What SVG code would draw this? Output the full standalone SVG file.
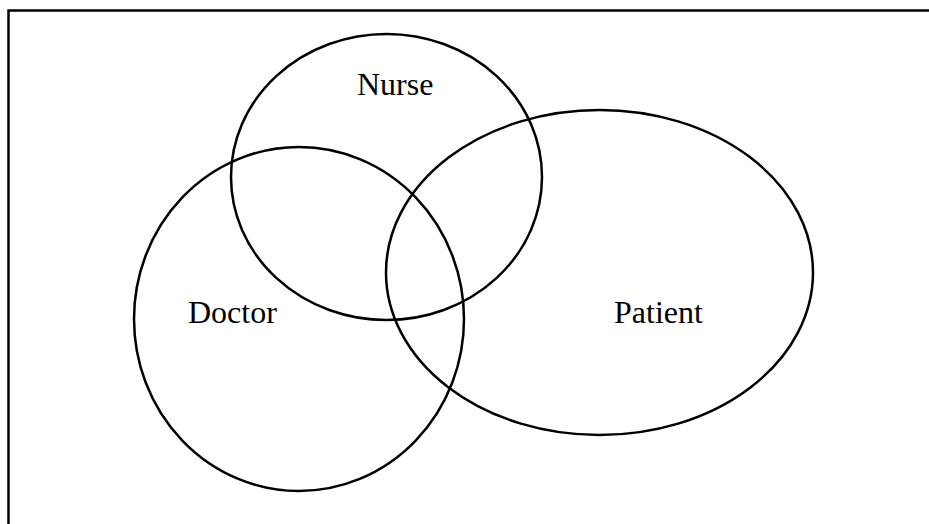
<svg xmlns="http://www.w3.org/2000/svg" width="929" height="524" viewBox="0 0 929 524">
<style>
.shape{fill:none;stroke:#000;stroke-width:2.5}
.frame{fill:none;stroke:#000;stroke-width:2.5}
.lbl{font-family:"Liberation Serif","Times New Roman",serif;font-size:32px;fill:#000}
</style>
<rect width="929" height="524" fill="#fff"/>
<path class="frame" d="M8.5,524 V10.5 H929"/>
<g id="doctor">
<ellipse class="shape" cx="299" cy="319" rx="165" ry="172"/>
<text class="lbl" x="188" y="323">Doctor</text>
</g>
<g id="nurse">
<ellipse class="shape" cx="386.5" cy="177" rx="155.5" ry="143"/>
<text class="lbl" x="357" y="95">Nurse</text>
</g>
<g id="patient">
<ellipse class="shape" cx="599.5" cy="272.5" rx="213.5" ry="162.5"/>
<text class="lbl" x="614" y="323">Patient</text>
</g>
<g id="connectors"/>
</svg>
